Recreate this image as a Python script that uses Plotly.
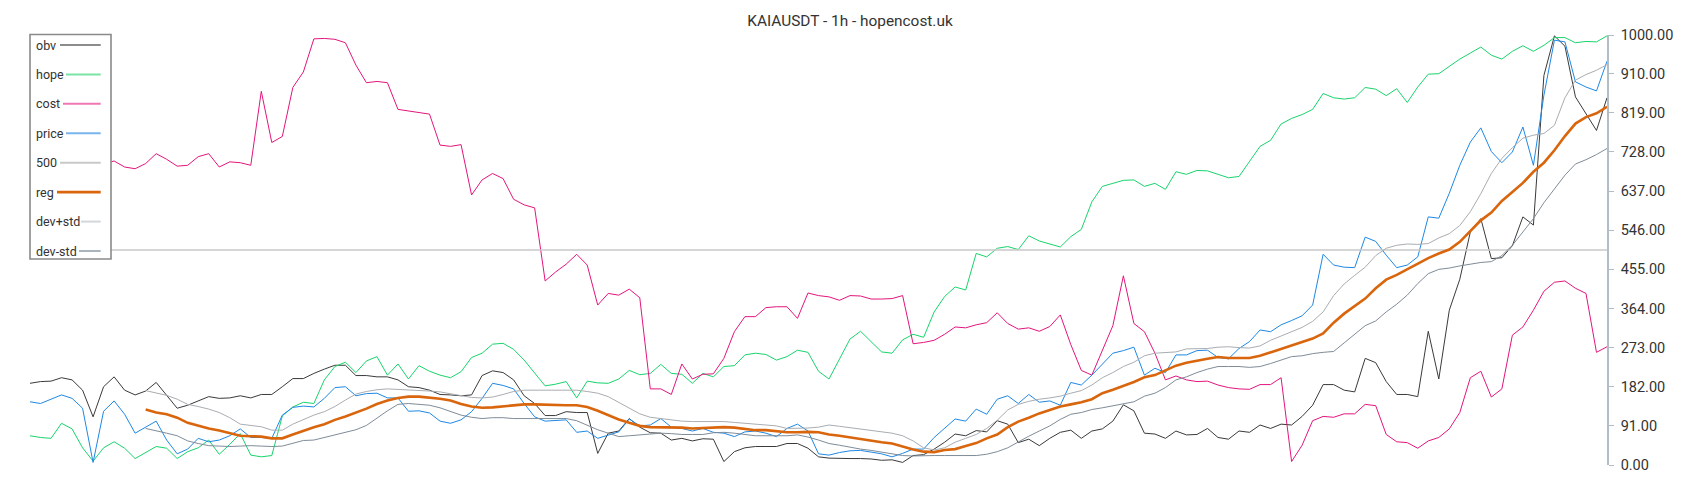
import plotly.graph_objects as go

# ---------------- data ----------------
title_text = "KAIAUSDT - 1h - hopencost.uk"
series_names = ["obv", "hope", "cost", "price", "500", "reg", "dev+std", "dev-std"]

obv = [190, 194, 195, 203, 198, 174, 112, 182, 205, 174, 163, 172, 192, 163, 132, 139, 149, 159, 155, 156, 161, 156,
       164, 164, 182, 201, 201, 213, 223, 232, 232, 208, 208, 205, 205, 198, 182, 180, 174, 164, 163, 161, 163, 208,
       219, 215, 198, 161, 143, 115, 115, 124, 122, 122, 27, 74, 79, 108, 88, 75, 74, 58, 62, 56, 61, 60,
       8, 31, 40, 43, 43, 43, 50, 50, 39, 19, 16, 15, 15, 15, 14, 11, 12, 6, 22, 24, 37, 53,
       72, 68, 80, 77, 103, 95, 52, 60, 45, 62, 76, 81, 62, 79, 84, 102, 140, 126, 74, 72, 62, 79,
       70, 71, 85, 64, 60, 79, 76, 93, 85, 95, 93, 113, 139, 187, 187, 174, 170, 248, 238, 194, 164, 164,
       159, 311, 200, 360, 432, 542, 573, 480, 482, 510, 577, 558, 906, 998, 974, 856, 817, 778, 854]

hope = [68, 64, 62, 97, 84, 40, 9, 40, 54, 39, 15, 29, 43, 39, 15, 31, 40, 58, 25, 48, 73, 23,
        19, 22, 114, 135, 146, 143, 198, 229, 239, 215, 242, 252, 209, 235, 200, 231, 218, 209, 203, 217, 250, 260,
        281, 283, 269, 244, 215, 184, 188, 194, 156, 195, 191, 190, 200, 220, 210, 213, 234, 213, 211, 190, 213, 205,
        229, 231, 256, 260, 257, 244, 252, 267, 262, 218, 200, 248, 293, 311, 286, 263, 260, 291, 304, 297, 356, 392,
        414, 407, 492, 484, 504, 508, 501, 533, 521, 514, 507, 531, 548, 612, 648, 655, 662, 663, 648, 655, 641, 682,
        676, 685, 684, 676, 668, 671, 707, 741, 755, 793, 806, 815, 827, 864, 854, 851, 854, 878, 874, 859, 875, 843,
        879, 909, 910, 927, 944, 958, 972, 953, 944, 962, 975, 962, 976, 994, 994, 982, 985, 984, 998]

cost = [597, 640, 680, 700, 690, 700, 705, 700, 707, 693, 689, 701, 724, 711, 695, 697, 717, 724, 693, 705, 703, 697,
        869, 750, 764, 878, 914, 991, 992, 990, 982, 930, 889, 892, 889, 827, 823, 820, 816, 744, 741, 745, 628, 663,
        678, 666, 618, 605, 598, 428, 449, 467, 490, 465, 372, 399, 395, 409, 389, 177, 177, 164, 235, 200, 211, 212,
        248, 310, 345, 345, 366, 368, 368, 341, 400, 394, 391, 383, 394, 393, 386, 386, 387, 394, 282, 285, 290, 304,
        321, 319, 326, 331, 354, 329, 316, 319, 311, 322, 349, 280, 220, 209, 268, 324, 440, 329, 310, 260, 198, 207,
        198, 194, 195, 186, 180, 177, 176, 187, 187, 203, 8, 46, 103, 113, 111, 119, 119, 141, 138, 71, 54, 52,
        39, 56, 64, 84, 122, 203, 218, 158, 177, 302, 321, 360, 404, 425, 428, 411, 399, 262, 275]

price = [147, 143, 153, 163, 155, 132, 6, 125, 149, 118, 74, 89, 102, 58, 26, 37, 62, 54, 58, 68, 84, 64,
         64, 62, 116, 134, 137, 135, 155, 180, 182, 161, 166, 167, 156, 156, 125, 126, 121, 102, 97, 105, 124, 155,
         190, 185, 177, 143, 112, 102, 104, 105, 76, 79, 62, 70, 77, 107, 91, 93, 108, 88, 85, 79, 85, 76,
         74, 66, 77, 79, 74, 66, 85, 95, 79, 26, 23, 29, 33, 34, 30, 26, 19, 27, 37, 37, 64, 85,
         107, 102, 130, 118, 153, 161, 143, 164, 146, 149, 139, 192, 186, 209, 234, 260, 266, 274, 209, 225, 215, 256,
         256, 266, 267, 250, 247, 271, 287, 314, 310, 326, 336, 347, 372, 490, 465, 460, 459, 530, 520, 488, 459, 465,
         484, 577, 574, 632, 697, 751, 784, 729, 703, 728, 786, 697, 860, 988, 984, 891, 879, 870, 939]

level_500 = [500] * len(obv)

reg = [None] * 11 + [
    129, 122, 118, 110, 98, 91, 85, 80, 74, 68, 67,
    66, 62, 62, 71, 80, 88, 95, 105, 113, 122, 131, 142, 150, 156, 159, 159, 157, 154, 150, 142, 136, 133,
    134, 136, 139, 141, 141, 140, 139, 139, 139, 135, 126, 116, 106, 98, 91, 88, 88, 88, 87, 85, 86, 88,
    88, 87, 84, 81, 81, 78, 76, 76, 77, 76, 71, 68, 64, 60, 56, 53, 50, 43, 36, 31, 30, 35,
    37, 44, 51, 62, 71, 88, 101, 110, 120, 128, 136, 141, 146, 153, 167, 175, 184, 193, 204, 209, 220, 231,
    238, 243, 247, 251, 249, 249, 249, 254, 262, 270, 278, 285, 294, 306, 331, 352, 369, 387, 411, 431, 442, 455,
    467, 481, 492, 501, 519, 544, 569, 587, 614, 635, 656, 682, 703, 732, 765, 794, 809, 818, 833]

dev_plus = [None] * 11 + [
    173, 168, 162, 153, 141, 136, 130, 122, 110, 95, 92,
    89, 81, 81, 95, 106, 116, 124, 136, 151, 165, 171, 175, 177, 176, 175, 174, 172, 170, 166, 161, 157, 156,
    158, 164, 171, 174, 174, 174, 174, 174, 174, 171, 167, 159, 145, 132, 119, 111, 108, 104, 102, 101, 101, 101,
    101, 99, 97, 95, 94, 91, 85, 85, 86, 88, 93, 90, 87, 84, 81, 77, 74, 68, 56, 40, 35, 40,
    53, 62, 71, 85, 104, 128, 141, 148, 153, 156, 160, 167, 173, 186, 203, 215, 229, 239, 254, 260, 262, 263,
    270, 270, 271, 274, 275, 273, 272, 277, 290, 300, 310, 320, 334, 356, 394, 421, 441, 460, 487, 504, 511, 514,
    513, 515, 528, 538, 557, 589, 631, 678, 713, 738, 760, 767, 771, 790, 854, 895, 908, 918, 931]

dev_minus = [None] * 11 + [
    85, 80, 74, 68, 56, 50, 45, 44, 43, 44, 45,
    44, 43, 44, 50, 57, 58, 64, 70, 76, 82, 92, 110, 126, 141, 143, 141, 139, 133, 125, 116, 111, 108,
    110, 110, 108, 108, 108, 108, 108, 108, 103, 93, 82, 74, 66, 68, 70, 72, 74, 73, 71, 71, 71, 75,
    76, 74, 71, 68, 68, 68, 68, 70, 65, 58, 50, 46, 41, 37, 34, 30, 26, 22, 21, 22, 22, 22,
    22, 22, 22, 25, 31, 40, 54, 67, 79, 91, 106, 118, 122, 129, 133, 138, 143, 147, 160, 167, 180, 198,
    205, 215, 223, 229, 229, 229, 227, 229, 236, 244, 252, 254, 259, 262, 264, 284, 304, 324, 335, 356, 374, 395,
    422, 445, 455, 458, 463, 467, 471, 473, 487, 511, 541, 573, 610, 643, 674, 700, 710, 722, 736]

ytick_vals = [0, 91, 182, 273, 364, 455, 546, 637, 728, 819, 910, 1000]
ytick_text = ["%.2f" % v for v in ytick_vals]

# ---------------- styles ----------------
line_colors = ["#3a3a3a", "#19d46c", "#e3157d", "#1e88e5", "#c8c8c8", "#d9650c", "#a9adb1", "#7f8c98"]
legend_colors = ["#8c8c8c", "#7be3a6", "#ee77b3", "#79b4ea", "#c8c8c8", "#d9650c", "#d3d7db", "#aab4bc"]
line_widths = [1, 1, 1, 1, 1.6, 2.6, 1, 1]
legend_widths = [2, 2, 2, 2, 2, 2.6, 2, 2]

values = [obv, hope, cost, price, level_500, reg, dev_plus, dev_minus]

W, H = 1700, 500
L, R, T, B = 30, 93, 35, 35
PW, PH = W - L - R, H - T - B

fig = go.Figure()
for name, vals, col, wd in zip(series_names, values, line_colors, line_widths):
    fig.add_trace(go.Scatter(
        x=list(range(len(vals))), y=vals, name=name, mode="lines",
        line=dict(color=col, width=wd, shape="linear"),
        connectgaps=False, showlegend=False, hoverinfo="skip"))


def px(xp):
    return (xp - L) / PW


def py(yp):
    return (H - B - yp) / PH


shapes = []
annotations = []
# legend box
shapes.append(dict(type="rect", xref="paper", yref="paper", layer="above",
                   x0=px(30), x1=px(111), y0=py(259), y1=py(34.5),
                   fillcolor="white", line=dict(color="#8a8a8a", width=1.6)))
icon_start = [60, 66, 63, 66, 60, 57, 81, 79]
for k, name in enumerate(series_names):
    yc = 45 + 29.43 * k
    annotations.append(dict(xref="paper", yref="paper", x=px(34), y=py(yc),
                            xanchor="left", yanchor="middle", showarrow=False,
                            text=name, font=dict(family="Roboto", size=12.5, color="#333333")))
    shapes.append(dict(type="line", xref="paper", yref="paper", layer="above",
                       x0=px(icon_start[k]), x1=px(100.7), y0=py(yc), y1=py(yc),
                       line=dict(color=legend_colors[k], width=legend_widths[k])))

fig.update_layout(
    width=W, height=H, autosize=False,
    margin=dict(l=L, r=R, t=T, b=B, pad=0),
    paper_bgcolor="white", plot_bgcolor="white",
    font=dict(family="Roboto", color="#333333"),
    title=dict(text=title_text, x=0.5, xref="container", xanchor="center",
               y=1 - 20.7 / H, yref="container", yanchor="middle",
               font=dict(family="Roboto", size=15.4, color="#333333")),
    xaxis=dict(visible=False, range=[0, len(obv) - 1], fixedrange=True),
    yaxis=dict(range=[0, 1000], side="right", showgrid=False, zeroline=False,
               showline=True, linecolor="#b3bdc5", linewidth=1.5,
               ticks="outside", ticklen=5, tickwidth=1.2, tickcolor="#b3bdc5",
               tickvals=ytick_vals, ticktext=ytick_text, ticklabelstandoff=4,
               tickfont=dict(family="Roboto", size=14.5, color="#333333"), fixedrange=True),
    shapes=shapes, annotations=annotations, showlegend=False,
)

fig.write_html("out.html", config={"displayModeBar": False},
               post_script="document.body.style.margin='0';document.body.style.overflow='hidden';")
